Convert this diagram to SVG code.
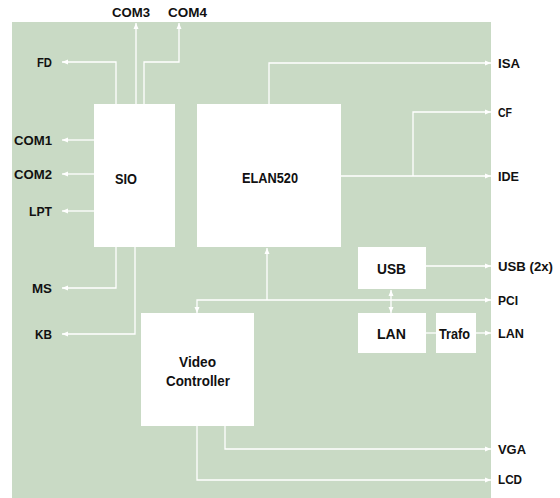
<svg xmlns="http://www.w3.org/2000/svg" width="560" height="498" viewBox="0 0 560 498">
<defs>
<marker id="ah" markerUnits="userSpaceOnUse" markerWidth="8" markerHeight="6" refX="6" refY="3" orient="auto">
<polygon points="0,0.5 6,3 0,5.5" fill="#ffffff"/>
</marker>
<style>
.bg{fill:#c9dac5}
.box{fill:#ffffff}
.ln{fill:none;stroke:#ffffff;stroke-width:1.3}
.ar{marker-end:url(#ah)}
.lb{font-family:"Liberation Sans",Arial,sans-serif;font-weight:bold;font-size:13px;fill:#111111}
.bl{font-family:"Liberation Sans",Arial,sans-serif;font-weight:bold;font-size:15px;fill:#111111}
</style>
</defs>
<rect width="560" height="498" fill="#ffffff"/>
<rect class="bg" x="12" y="22" width="479" height="476"/>

<g id="connectors">
<path class="ln ar" d="M116 104 V62 H62"/>
<path class="ln ar" d="M136 104 V23"/>
<path class="ln ar" d="M144 104 V62 H179 V23"/>
<path class="ln ar" d="M94 140 H62"/>
<path class="ln ar" d="M94 174 H62"/>
<path class="ln ar" d="M94 211 H62"/>
<path class="ln ar" d="M116 247 V288 H62"/>
<path class="ln ar" d="M135 247 V334 H62"/>
<path class="ln ar" d="M269 104 V63 H491"/>
<path class="ln ar" d="M341 176 H491"/>
<path class="ln ar" d="M413 176 V112 H491"/>
<path class="ln ar" d="M426 266 H491"/>
<path class="ln ar" d="M267 300 H491"/>
<path class="ln ar" d="M267 300 H197 V313"/>
<path class="ln ar" d="M267 300 V248"/>
<path class="ln ar" d="M391 300 V290"/>
<path class="ln ar" d="M391 300 V313"/>
<path class="ln" d="M426 333 H436"/>
<path class="ln ar" d="M476 333 H491"/>
<path class="ln ar" d="M225 426 V449 H491"/>
<path class="ln ar" d="M197 426 V480 H491"/>
</g>

<g id="sio"><rect class="box" x="94" y="104" width="81" height="143"/><text class="bl" x="115" y="183.5" textLength="22" lengthAdjust="spacingAndGlyphs">SIO</text></g>
<g id="elan"><rect class="box" x="197" y="104" width="144" height="143"/><text class="bl" x="242" y="182.5" textLength="56" lengthAdjust="spacingAndGlyphs">ELAN520</text></g>
<g id="usb"><rect class="box" x="358" y="247" width="68" height="42"/><text class="bl" x="377" y="273.5" textLength="29" lengthAdjust="spacingAndGlyphs">USB</text></g>
<g id="lan"><rect class="box" x="358" y="313" width="68" height="40"/><text class="bl" x="377" y="338.5" textLength="29" lengthAdjust="spacingAndGlyphs">LAN</text></g>
<g id="trafo"><rect class="box" x="436" y="313" width="40" height="40"/><text class="bl" x="439" y="338.5" textLength="31" lengthAdjust="spacingAndGlyphs">Trafo</text></g>
<g id="video"><rect class="box" x="141" y="313" width="113" height="113"/><text class="bl" x="179" y="366.5" textLength="37" lengthAdjust="spacingAndGlyphs">Video</text><text class="bl" x="166" y="385.5" textLength="64" lengthAdjust="spacingAndGlyphs">Controller</text></g>

<g id="labels">
<text class="lb" x="37" y="66.7" textLength="15" lengthAdjust="spacingAndGlyphs">FD</text>
<text class="lb" x="14" y="144.7" textLength="38" lengthAdjust="spacingAndGlyphs">COM1</text>
<text class="lb" x="14" y="178.7" textLength="38" lengthAdjust="spacingAndGlyphs">COM2</text>
<text class="lb" x="29" y="215.7" textLength="23" lengthAdjust="spacingAndGlyphs">LPT</text>
<text class="lb" x="32" y="292.7" textLength="20" lengthAdjust="spacingAndGlyphs">MS</text>
<text class="lb" x="35" y="338.7" textLength="17" lengthAdjust="spacingAndGlyphs">KB</text>
<text class="lb" x="112" y="17.3" textLength="38" lengthAdjust="spacingAndGlyphs">COM3</text>
<text class="lb" x="168" y="17.3" textLength="39" lengthAdjust="spacingAndGlyphs">COM4</text>
<text class="lb" x="498" y="67.7" textLength="22" lengthAdjust="spacingAndGlyphs">ISA</text>
<text class="lb" x="498" y="116.7" textLength="14" lengthAdjust="spacingAndGlyphs">CF</text>
<text class="lb" x="498" y="180.7" textLength="21" lengthAdjust="spacingAndGlyphs">IDE</text>
<text class="lb" x="498" y="270.7" textLength="55" lengthAdjust="spacingAndGlyphs">USB (2x)</text>
<text class="lb" x="498" y="304.7" textLength="20" lengthAdjust="spacingAndGlyphs">PCI</text>
<text class="lb" x="498" y="337.7" textLength="26" lengthAdjust="spacingAndGlyphs">LAN</text>
<text class="lb" x="498" y="453.7" textLength="28" lengthAdjust="spacingAndGlyphs">VGA</text>
<text class="lb" x="498" y="483.7" textLength="24" lengthAdjust="spacingAndGlyphs">LCD</text>
</g>
</svg>
